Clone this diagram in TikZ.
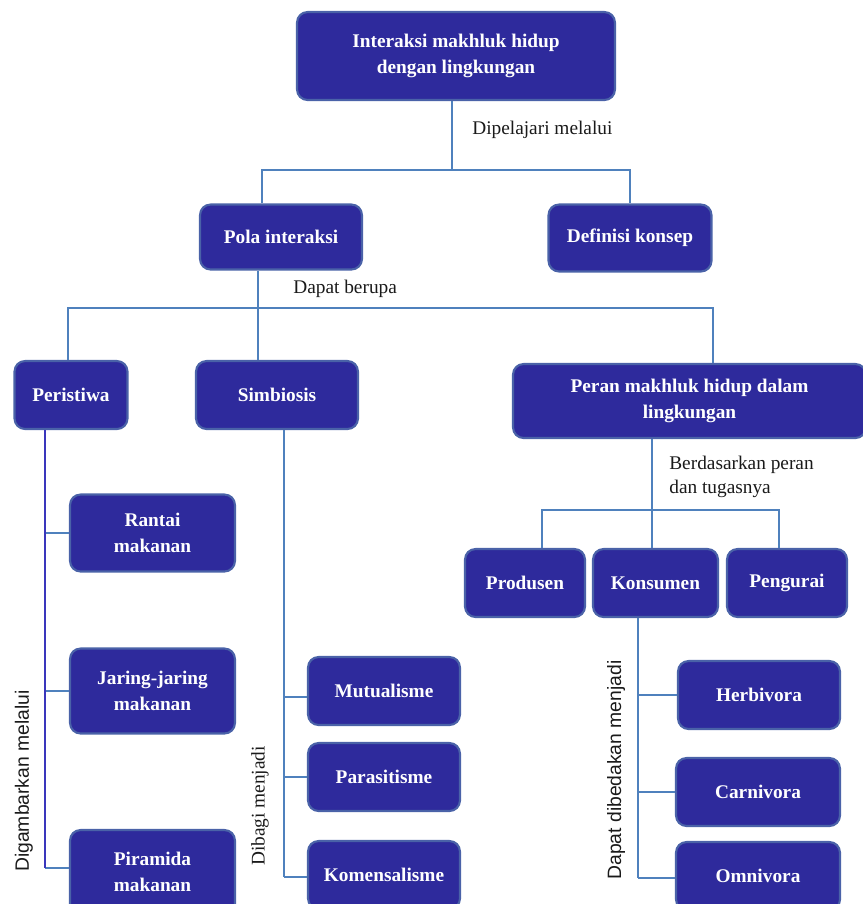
\documentclass[tikz,border=0pt]{standalone}
\usepackage{fontspec}
\setmainfont{Liberation Serif}
\setsansfont{Liberation Sans}
\usepackage{xcolor}
\definecolor{cBox}{HTML}{2E2A9C}
\definecolor{cEdge}{HTML}{4A62A8}
\definecolor{cLine}{HTML}{4F81BD}
\definecolor{cSpine}{HTML}{3A36BC}
\definecolor{cText}{HTML}{1A1A1A}
\usepackage{tikz}
\usetikzlibrary{positioning}
\tikzset{
  node-box/.style={fill=cBox,draw=cEdge,line width=1.2pt,rounded corners=6pt,
    text=white,align=center,inner sep=2pt,
    font=\fontsize{11}{14.5}\selectfont\bfseries},
  link/.style={draw=cLine,line width=1pt},
  link-dark/.style={draw=cSpine,line width=1.2pt},
  note/.style={font=\fontsize{11}{13.5}\selectfont,text=cText,align=left,
    inner sep=0pt,anchor=west},
  note-rot/.style={font=\sffamily\fontsize{11}{13}\selectfont,text=cText,
    rotate=90,inner sep=0pt},
}

\begin{document}
\begin{tikzpicture}[x=0.02cm,y=-0.02cm]
  \useasboundingbox (0,0) rectangle (863,904);
  \clip (0,0) rectangle (863,904);
  % upper levels
  \node[node-box,minimum width=6.36cm,minimum height=1.76cm] (root) at (456,56)
       {Interaksi makhluk hidup\\dengan lingkungan};
  \node[node-box,minimum width=3.24cm,minimum height=1.3cm] (pola) at (281,237) {Pola interaksi};
  \node[node-box,minimum width=3.26cm,minimum height=1.34cm] (definisi) at (630,238) {Definisi konsep};
  \node[node-box,minimum width=2.26cm,minimum height=1.36cm] (peristiwa) at (71,395) {Peristiwa};
  \node[node-box,minimum width=3.24cm,minimum height=1.36cm] (simbiosis) at (277,395) {Simbiosis};
  \node[node-box,minimum width=7.06cm,minimum height=1.48cm] (peran) at (689.5,401)
       {Peran makhluk hidup dalam\\lingkungan};
  % peristiwa
  \node[node-box,minimum width=3.3cm,minimum height=1.54cm] (rantai) at (152.5,533) {Rantai\\makanan};
  \node[node-box,minimum width=3.3cm,minimum height=1.7cm] (jaring) at (152.5,691) {Jaring-jaring\\makanan};
  \node[node-box,minimum width=3.3cm,minimum height=1.68cm] (piramida) at (152.5,872) {Piramida\\makanan};
  % simbiosis
  \node[node-box,minimum width=3.04cm,minimum height=1.36cm] (mutualisme) at (384,691) {Mutualisme};
  \node[node-box,minimum width=3.04cm,minimum height=1.36cm] (parasitisme) at (384,777) {Parasitisme};
  \node[node-box,minimum width=3.04cm,minimum height=1.36cm] (komensalisme) at (384,875) {Komensalisme};
  % peran
  \node[node-box,minimum width=2.4cm,minimum height=1.36cm] (produsen) at (525,583) {Produsen};
  \node[node-box,minimum width=2.5cm,minimum height=1.36cm] (konsumen) at (655.5,583) {Konsumen};
  \node[node-box,minimum width=2.4cm,minimum height=1.36cm] (pengurai) at (787,583) {Pengurai};
  \node[node-box,minimum width=3.24cm,minimum height=1.36cm] (herbivora) at (759,695) {Herbivora};
  \node[node-box,minimum width=3.28cm,minimum height=1.36cm] (carnivora) at (758,792) {Carnivora};
  \node[node-box,minimum width=3.28cm,minimum height=1.36cm] (omnivora) at (758,876) {Omnivora};

  % root -> pola / definisi
  \coordinate (fork-root) at (452,170);
  \draw[link] (root.south -| fork-root) -- (fork-root);
  \draw[link] (fork-root) -| ([xshift=-0.38cm]pola.north);
  \draw[link] (fork-root) -| (definisi.north);
  \node[note] (lbl-dipelajari) at (472,130) {Dipelajari melalui};

  % pola -> peristiwa / simbiosis / peran
  \coordinate (fork-pola) at (258,308);
  \draw[link] (pola.south -| fork-pola) -- (fork-pola);
  \draw[link] (fork-pola) -| ([xshift=-0.06cm]peristiwa.north);
  \draw[link] (fork-pola) -- (simbiosis.north -| fork-pola);
  \draw[link] (fork-pola) -| ([xshift=0.47cm]peran.north);
  \node[note] (lbl-berupa) at (293,289) {Dapat berupa};

  % peristiwa -> rantai / jaring / piramida
  \coordinate (spine-peristiwa) at (45,868);
  \draw[link] (rantai.west -| spine-peristiwa) -- (rantai.west);
  \draw[link] (jaring.west -| spine-peristiwa) -- (jaring.west);
  \draw[link] (spine-peristiwa) -- (piramida.west |- spine-peristiwa);
  \draw[link-dark] (peristiwa.south -| spine-peristiwa) -- (spine-peristiwa);
  \node[note-rot] (lbl-digambarkan) at (24,781) {Digambarkan melalui};

  % simbiosis -> mutualisme / parasitisme / komensalisme
  \coordinate (spine-simbiosis) at (284,877);
  \draw[link] (simbiosis.south -| spine-simbiosis) -- (spine-simbiosis);
  \draw[link] ([yshift=-0.12cm]mutualisme.west -| spine-simbiosis) -- ([yshift=-0.12cm]mutualisme.west);
  \draw[link] (parasitisme.west -| spine-simbiosis) -- (parasitisme.west);
  \draw[link] (spine-simbiosis) -- (komensalisme.west |- spine-simbiosis);
  \node[note-rot,font=\fontsize{11}{13}\selectfont] (lbl-dibagi) at (260,806) {Dibagi menjadi};

  % peran -> produsen / konsumen / pengurai
  \coordinate (fork-peran) at (652,510);
  \draw[link] (peran.south -| fork-peran) -- (fork-peran);
  \draw[link] (fork-peran) -| ([xshift=0.34cm]produsen.north);
  \draw[link] (fork-peran) -- (konsumen.north -| fork-peran);
  \draw[link] (fork-peran) -| ([xshift=-0.16cm]pengurai.north);
  \node[note] (lbl-berdasarkan) at (669,477) {Berdasarkan peran\\dan tugasnya};

  % konsumen -> herbivora / carnivora / omnivora
  \coordinate (spine-konsumen) at (638,878);
  \draw[link] (konsumen.south -| spine-konsumen) -- (spine-konsumen);
  \draw[link] (herbivora.west -| spine-konsumen) -- (herbivora.west);
  \draw[link] (carnivora.west -| spine-konsumen) -- (carnivora.west);
  \draw[link] (spine-konsumen) -- (omnivora.west |- spine-konsumen);
  \node[note-rot] (lbl-dibedakan) at (616,770) {Dapat dibedakan menjadi};
\end{tikzpicture}
\end{document}
